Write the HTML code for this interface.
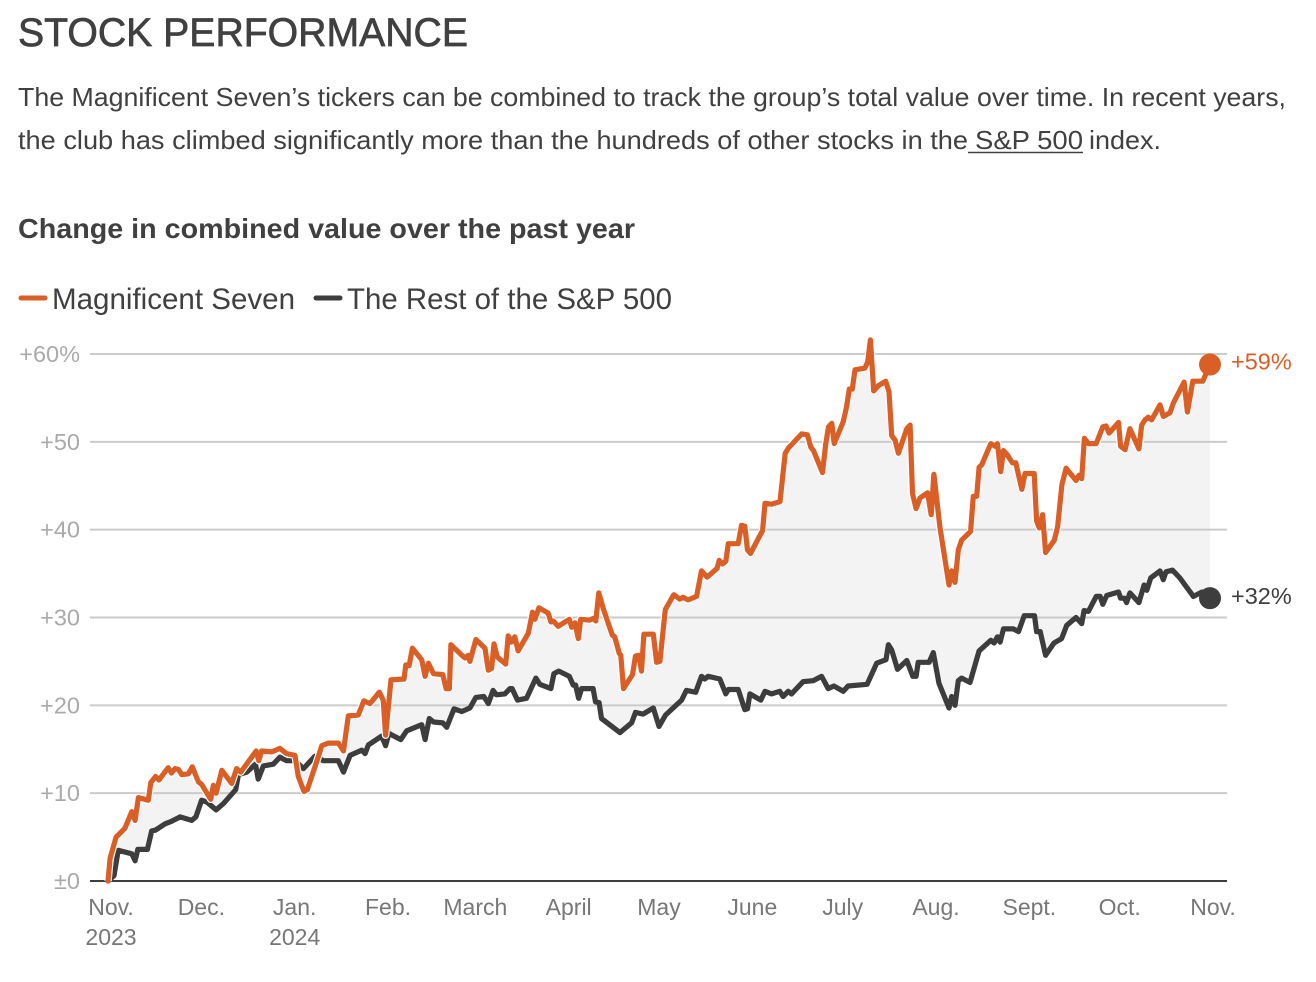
<!DOCTYPE html>
<html lang="en">
<head>
<meta charset="utf-8">
<title>Stock Performance</title>
<style>
  html, body { margin: 0; padding: 0; background: #fff; width: 1316px; height: 982px; overflow: hidden; }
  svg { display: block; font-family: "Liberation Sans", sans-serif; }
</style>
</head>
<body>
<svg id="chart" width="1316" height="982" viewBox="0 0 1316 982" xmlns="http://www.w3.org/2000/svg">
  <text x="18" y="46" font-size="40" fill="#404040" stroke="#404040" stroke-width="0.7" textLength="450" lengthAdjust="spacingAndGlyphs">STOCK PERFORMANCE</text>
  <text x="18" y="106" font-size="26" fill="#404040" textLength="1268" lengthAdjust="spacingAndGlyphs">The Magnificent Seven’s tickers can be combined to track the group’s total value over time. In recent years,</text>
  <text x="18" y="149" font-size="26" fill="#404040" textLength="950" lengthAdjust="spacingAndGlyphs">the club has climbed significantly more than the hundreds of other stocks in the</text>
  <text x="975" y="149" font-size="26" fill="#404040" textLength="108" lengthAdjust="spacingAndGlyphs">S&amp;P 500</text>
  <line x1="968" x2="1083" y1="152.5" y2="152.5" stroke="#404040" stroke-width="1.6"/>
  <text x="1089" y="149" font-size="26" fill="#404040" textLength="72" lengthAdjust="spacingAndGlyphs">index.</text>
  <text x="18" y="238" font-size="28" font-weight="700" fill="#404040" textLength="617" lengthAdjust="spacingAndGlyphs">Change in combined value over the past year</text>

  <g>
    <line x1="21" x2="45" y1="298" y2="298" stroke="#d95f26" stroke-width="5" stroke-linecap="round"/>
    <text x="52" y="309" font-size="30" fill="#404040" textLength="243" lengthAdjust="spacingAndGlyphs">Magnificent Seven</text>
    <line x1="316" x2="340" y1="298" y2="298" stroke="#3d3d3d" stroke-width="5" stroke-linecap="round"/>
    <text x="347" y="309" font-size="30" fill="#404040" textLength="325" lengthAdjust="spacingAndGlyphs">The Rest of the S&amp;P 500</text>
  </g>

  <g id="plot"></g>
</svg>

<script>
// Days since 31 Oct 2023, and percentage change in combined value
const magDays = [0,0.7,2.7,5.6,7.9,9,10.1,13.4,14.2,15.8,16.9,20,21.1,22.3,23.4,24.5,26.7,28,30,31.1,34.1,35,35.9,37.8,41.1,42.7,44.1,49.2,50.1,51,54.4,57.1,59.3,62.1,63.2,65.1,66.2,69.3,71,73.2,76.5,78.2,79.8,83.1,85,87,90.1,91.4,92.2,94,98.3,98.9,100,101.1,104.2,105.3,106.4,108.1,111.2,112.3,113.4,113.9,117.5,118.6,119.7,120.2,122.2,125.2,126.3,127.4,128.2,129.3,132.1,132.9,134,135.1,136.2,139.6,141,141.8,143.1,146.2,147.1,147.9,149.5,153.2,154,155.1,156.2,157,160,161.1,162,163,164.5,167.5,168.3,169.8,170.3,171.2,174.2,175.2,176.3,177.2,178,181.1,182.2,183.3,185.1,187.9,189.9,191,192.7,195.5,197.1,199,202.3,203,204.1,205.2,206,209.3,210.4,211.5,212.4,213.4,217.4,218.2,220.4,223.2,224.9,226,230.4,232.3,233.4,234.3,237.3,238.4,239.3,240.4,241.2,244.2,245.3,246.2,247.2,248.1,251.4,252.3,253.2,254.3,255.9,258.3,259.4,260.3,261.4,262.5,265.3,266.4,267.2,268.4,269.7,272.2,273.4,274.3,276.3,279.3,280.2,281.3,282.4,283.5,286.5,287.4,288.5,289.3,290.2,293.2,294.6,295.4,296.5,297.4,298.5,300.4,301.5,303.5,304.6,307.6,308.4,309.3,310.4,311.4,314.3,315.4,316.8,318.2,321.5,322.5,323.4,324.3,325.6,328.2,330.4,331.5,332.5,335.6,336.3,337.8,339.4,342.4,343.3,344.4,345.5,346.6,349.4,350.5,352.7,353.8,357.4,358.5,360.3,363.6,366];
const magValues = [0,2.6,5,6,7.9,6.9,9.5,9.2,11.2,11.9,11.5,12.9,12.3,12.8,12.7,12.1,12.2,13,11.3,11,9.3,10.9,10,12.6,11.1,12.8,12.4,14.8,13.7,14.8,14.7,15.1,14.5,14.3,11.9,10.2,10.4,13.6,15.4,15.7,15.7,14.8,18.8,18.9,20.5,20.2,21.5,20.6,16.6,22.9,23,24.6,24.5,26.5,25.2,23.3,24.8,23.6,23.5,21.9,21.9,26.9,25.7,25.4,25.7,25,27.5,26.5,24,24.2,27,25.5,24.7,27.9,27.2,27.8,26.2,28.2,30.6,29.8,31.1,30.5,29.5,29.6,29,29.8,28.9,29.4,27.6,29.8,29.7,29.9,29.6,32.8,31,28,27.8,25.9,25.7,21.9,23.5,25.6,25.7,23.9,28.1,28.1,24.9,25,30.9,32.6,32.1,32.3,32,32.4,35.3,34.6,35.6,36.5,36.1,36.4,38.4,38.4,40.5,40.4,37.7,37.3,39.9,43,42.9,43.2,48.7,49.3,50.9,50.8,49.4,49,46.5,49.8,51.7,52.1,49.8,52.3,54,56,56,58.2,58.4,59.1,61.6,55.8,56.4,56.9,55.7,50.7,50.2,48.7,51.5,51.9,44.1,42.4,43.6,44.2,41.7,46.3,40.3,33.7,35.3,34,37.7,38.8,39.8,43.8,43.8,47.1,47.4,49.8,49.5,49.8,46.6,49,48.6,47.6,47.6,44.6,46.4,46.4,41,40.2,41.7,37.4,38.8,40.3,45.1,47,45.6,46.2,45.8,50.4,49.8,49.8,51.7,51.8,51,52.2,49.5,49.1,51.5,49.2,51.9,52.5,52.8,52.5,54.2,52.9,53.3,54.4,56.8,53.4,56.9,56.9,58.8];
const restDays = [0,2,3.4,7.9,9,9.9,13.1,14.5,15.8,18.9,21.1,23.9,27.8,29.2,31.1,32.8,35.9,38.3,42.4,43.3,46.1,49,49.9,51.6,54.9,57.1,59.3,62.1,64.9,68.7,71.5,76.5,78.2,80.4,84.3,85.4,86.5,90.9,92.2,93.3,97.2,99.2,104.2,105.3,106.7,108.1,111.2,112.5,114.9,117.5,120.2,122.2,124.8,126.3,127.9,129,131.8,133.5,134.2,136,139,142.1,143.4,147.1,148.1,149.7,153.2,154.5,155.3,156.3,157.3,161.1,161.9,163.1,163.9,170,173.9,175.2,177.7,181.1,183,185.2,190.5,192.1,195.2,197.1,198.2,199.3,203.2,205.2,206,209.3,211.5,212.4,213.2,216.8,218.2,220.4,223.1,224.2,225.9,227,230.9,234.2,237,239.2,241.1,244.2,245.8,252.1,255.3,258.4,259.2,260.3,262.2,265.3,267.3,268.4,269.1,272.7,274.1,276,279.3,280.2,281.3,282.4,283.5,286.3,289.3,293.2,294.3,295.4,296.3,297.4,300.7,302.4,304.3,307.7,308.4,309.6,311.4,314.2,316.7,318.4,321.5,323.4,324.2,325.6,328.2,329.5,330.4,331.7,335.6,336.3,337.6,338.3,339.4,342.4,344.1,345,346.3,349.4,350.5,351.4,353.5,356,360.5,363.3,366];
const restValues = [0,0.6,3.5,3.1,2.3,3.6,3.6,5.7,5.8,6.5,6.8,7.3,6.9,7.3,9.2,9,8.1,8.8,10.4,12.1,12.4,13.3,11.6,13.1,13.3,14.1,13.7,13.7,12.8,14.2,13.7,13.7,12.4,14.3,14.9,14.5,15.5,16.5,15.4,16.8,16.1,17.1,17.8,16.1,18.5,18.1,18,17.5,19.6,19.3,19.7,20.9,21,20.2,21.7,21.2,21.3,21.9,21.9,20.6,20.8,23.1,22.4,21.9,23.6,23.9,23.3,22.3,22.3,20.8,21.9,21.9,20.4,20.3,18.5,16.9,18,19.2,19,19.7,17.6,18.9,20.6,21.7,21.5,23.3,23,23.3,23,21.3,21.8,21.8,19.5,19.6,21.3,20.6,21.6,21.3,21.6,21,21.6,21.3,22.7,22.8,23.3,21.9,22.2,21.6,22.2,22.4,24.8,25.2,26.9,26.3,24.1,25.1,23.3,23.3,24.9,24.9,26,22.5,19.7,21,20,22.8,23.1,22.6,26.2,27.4,27.1,27.8,27.2,28.7,28.7,28.4,30.2,30.2,28.4,28.4,25.7,27.1,27.6,29.1,30,29.3,30.8,30.7,32.4,32.4,31.5,32.5,32.9,32.2,32.2,31.7,32.8,31.7,33.7,33.1,34.5,35.3,34.3,35.2,35.4,34.5,32.4,32.9,32.2];
const yTickValues = [60,50,40,30,20,10,0];
const yTickLabels = ["+60%","+50","+40","+30","+20","+10","±0"];
const xTickDays = [1,31,62,93,122,153,183,214,244,275,306,336,367];
const xTickLabels = ["Nov.","Dec.","Jan.","Feb.","March","April","May","June","July","Aug.","Sept.","Oct.","Nov."];
const xTickYears = ["2023","","2024","","","","","","","","","",""];

const NS = "http://www.w3.org/2000/svg";
const plot = document.getElementById("plot");
const xDayScale = d => 108 + d * (1102 / 366);
const yPctScale = v => 881 - v * (527 / 60);

function make(tag, attrs, parent) {
  const el = document.createElementNS(NS, tag);
  for (const k in attrs) el.setAttribute(k, attrs[k]);
  (parent || plot).appendChild(el);
  return el;
}
const pts = (days, vals) => days.map((d, i) => xDayScale(d).toFixed(1) + "," + yPctScale(vals[i]).toFixed(1));

// Shaded gap between the two series
const gap = make("polygon", { points: pts(magDays, magValues).concat(pts(restDays, restValues).reverse()).join(" "), fill: "#f3f3f3" });



// Gridlines and y labels
yTickValues.forEach((v, i) => {
  const line = make("line", { x1: 90, x2: 1227, y1: yPctScale(v), y2: yPctScale(v), stroke: v === 0 ? "#3d3d3d" : "#cbcbcb", "stroke-width": 2 });
  
  
  const t = make("text", { x: 80, y: yPctScale(v) + 8, "text-anchor": "end", "font-size": 23.5, fill: "#aaaaaa" });
  t.textContent = yTickLabels[i];
  
  
});

// X labels
xTickDays.forEach((d, i) => {
  const t = make("text", { x: xDayScale(d), y: 915, "text-anchor": "middle", "font-size": 23, fill: "#777777" });
  t.textContent = xTickLabels[i];
  
  
  if (xTickYears[i]) {
    const y = make("text", { x: xDayScale(d), y: 945, "text-anchor": "middle", "font-size": 23, fill: "#777777" });
    y.textContent = xTickYears[i];
    
    
  }
});

// Series lines
const restLine = make("polyline", { points: pts(restDays, restValues).join(" "), fill: "none", stroke: "#3d3d3d", "stroke-width": 5.2, "stroke-linejoin": "round", "stroke-linecap": "round" });


const magHalo = make("polyline", { points: pts(magDays, magValues).join(" "), fill: "none", stroke: "#ffffff", "stroke-width": 7.5, "stroke-linejoin": "round" });


const magLine = make("polyline", { points: pts(magDays, magValues).join(" "), fill: "none", stroke: "#d95f26", "stroke-width": 5.2, "stroke-linejoin": "round", "stroke-linecap": "round" });



// End markers and end labels
const magLast = magValues[magValues.length - 1];
const restLast = restValues[restValues.length - 1];
const magDot = make("circle", { cx: xDayScale(magDays[magDays.length - 1]), cy: yPctScale(magLast), r: 11, fill: "#d95f26" });


const restDot = make("circle", { cx: xDayScale(restDays[restDays.length - 1]), cy: yPctScale(restLast), r: 11, fill: "#3d3d3d" });


const magEnd = make("text", { x: 1231, y: yPctScale(magLast) + 5, "font-size": 23.5, fill: "#d95f26" });
magEnd.textContent = "+" + Math.round(magLast) + "%";


const restEnd = make("text", { x: 1231, y: yPctScale(restLast) + 6, "font-size": 23.5, fill: "#3d3d3d" });
restEnd.textContent = "+" + Math.round(restLast) + "%";


</script>
</body>
</html>
